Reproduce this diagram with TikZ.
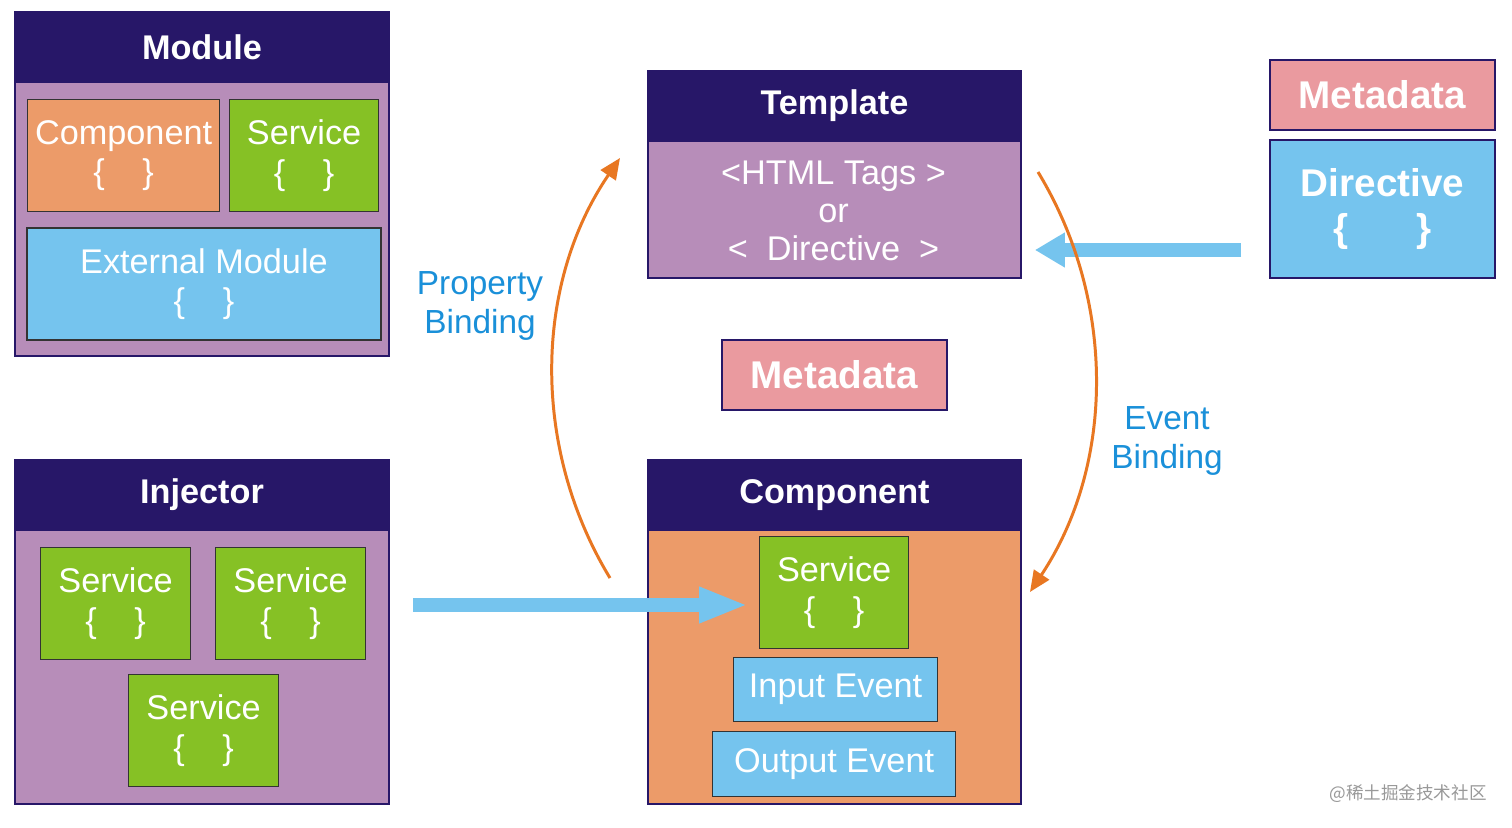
\documentclass[tikz,border=0pt]{standalone}
\usepackage{fontspec}
\setmainfont{Liberation Sans}
\newfontfamily\cjkfont{Noto Sans CJK SC}
\usetikzlibrary{arrows.meta}
\definecolor{navy}{HTML}{271768}
\definecolor{lilac}{HTML}{B78DB9}
\definecolor{peach}{HTML}{EC9B69}
\definecolor{leaf}{HTML}{86C125}
\definecolor{sky}{HTML}{75C4EE}
\definecolor{rose}{HTML}{EA9A9F}
\definecolor{flow}{HTML}{E87722}
\definecolor{caption}{HTML}{1A90D9}
\newcommand{\px}{0.02cm}
\newcommand{\braces}[1][1.1em]{\{\hspace{#1}\}}
\begin{document}
\begin{tikzpicture}[x=0.02cm, y=-0.02cm,
    every node/.style={inner sep=0pt, align=center, text=white},
    panel/.style={draw=navy, line width=1.1pt, anchor=north west},
    head/.style={panel, fill=navy, minimum height=70*\px, font=\bfseries\fontsize{19.5}{23}\selectfont},
    card/.style={draw=black!80, line width=0.7pt, anchor=north west, font=\fontsize{19.5}{22.5}\selectfont},
    meta/.style={panel, fill=rose, minimum width=225*\px, minimum height=70*\px, font=\bfseries\fontsize{22}{26}\selectfont},
    fat/.style={draw=sky, line width=0.28cm, -{Triangle[length=0.98cm,width=0.66cm]}},
    binding/.style={draw=flow, line width=1.7pt, -{Triangle[length=0.42cm,width=0.36cm]}},
    caption/.style={text=caption, font=\fontsize{19}{22.3}\selectfont}]
  \path[use as bounding box, fill=white] (0,0) rectangle (1512,828);

  % module
  \node[panel, fill=lilac, minimum width=374*\px, minimum height=344*\px] (module) at (14,11) {};
  \node[head, minimum width=374*\px] (moduleHead) at (14,11) {Module};
  \node[card, fill=peach, minimum width=192*\px, minimum height=112*\px] (modComp) at (27,99) {Component\\\braces};
  \node[card, fill=leaf, minimum width=149*\px, minimum height=112*\px] (modServ) at (229,99) {Service\\\braces};
  \node[card, fill=sky, line width=1.1pt, minimum width=354*\px, minimum height=112*\px] (extMod) at (26,227) {External Module\\\braces};

  % injector
  \node[panel, fill=lilac, minimum width=374*\px, minimum height=344*\px] (injector) at (14,459) {};
  \node[head, minimum width=374*\px] (injectorHead) at (14,459) {Injector};
  \node[card, fill=leaf, minimum width=150*\px, minimum height=112*\px] (injServA) at (40,547) {Service\\\braces};
  \node[card, fill=leaf, minimum width=150*\px, minimum height=112*\px] (injServB) at (215,547) {Service\\\braces};
  \node[card, fill=leaf, minimum width=150*\px, minimum height=112*\px] (injServC) at (128,674) {Service\\\braces};

  % template
  \node[panel, fill=lilac, minimum width=373*\px, minimum height=207*\px] (template) at (647,70) {};
  \node[head, minimum width=373*\px] (templateHead) at (647,70) {Template};
  \node[font=\fontsize{19.5}{21.8}\selectfont] (templateBody) at (833.5,211) {<HTML Tags >\\or\\<\ \ Directive\ \ >};

  \node[meta] (metaMid) at (721,339) {Metadata};

  % component
  \node[panel, fill=peach, minimum width=373*\px, minimum height=344*\px] (component) at (647,459) {};
  \node[head, minimum width=373*\px] (componentHead) at (647,459) {Component};
  \node[card, fill=leaf, minimum width=149*\px, minimum height=112*\px] (cmpServ) at (759,536) {Service\\\braces};
  \node[card, fill=sky, minimum width=204*\px, minimum height=64*\px] (inputEvt) at (733,657) {Input Event};
  \node[card, fill=sky, minimum width=243*\px, minimum height=65*\px] (outputEvt) at (712,731) {Output Event};

  % directive
  \node[meta] (metaRight) at (1269,59) {Metadata};
  \node[meta, fill=sky, minimum height=138*\px] (directive) at (1269,139) {Directive\\\braces[1.75em]};

  % arrows
  \coordinate (injOut) at (413,605);
  \draw[fat, shorten >=0.22cm] (injOut) -- (injOut -| cmpServ.west);
  \coordinate (dirOut) at (1241,250);
  \draw[fat, -{Triangle[length=0.6cm,width=0.66cm]}, line width=0.3cm, shorten >=0.26cm] (dirOut) -- (dirOut -| template.east);

  \coordinate (pbStart) at (610,578);
  \coordinate (pbEnd) at (620,158);
  \draw[binding] (pbStart) .. controls (531,448) and (534,284) .. (pbEnd);
  \coordinate (ebStart) at (1038,172);
  \coordinate (ebEnd) at (1030,592);
  \draw[binding] (ebStart) .. controls (1117,302) and (1114,466) .. (ebEnd);

  \node[caption] (propLbl) at (480,306) {Property\\Binding};
  \node[caption] (eventLbl) at (1167,441) {Event\\Binding};

  \node[text=black!40, font=\cjkfont\fontsize{10}{12}\selectfont] (mark) at (1408,794) {@稀土掘金技术社区};
\end{tikzpicture}
\end{document}
